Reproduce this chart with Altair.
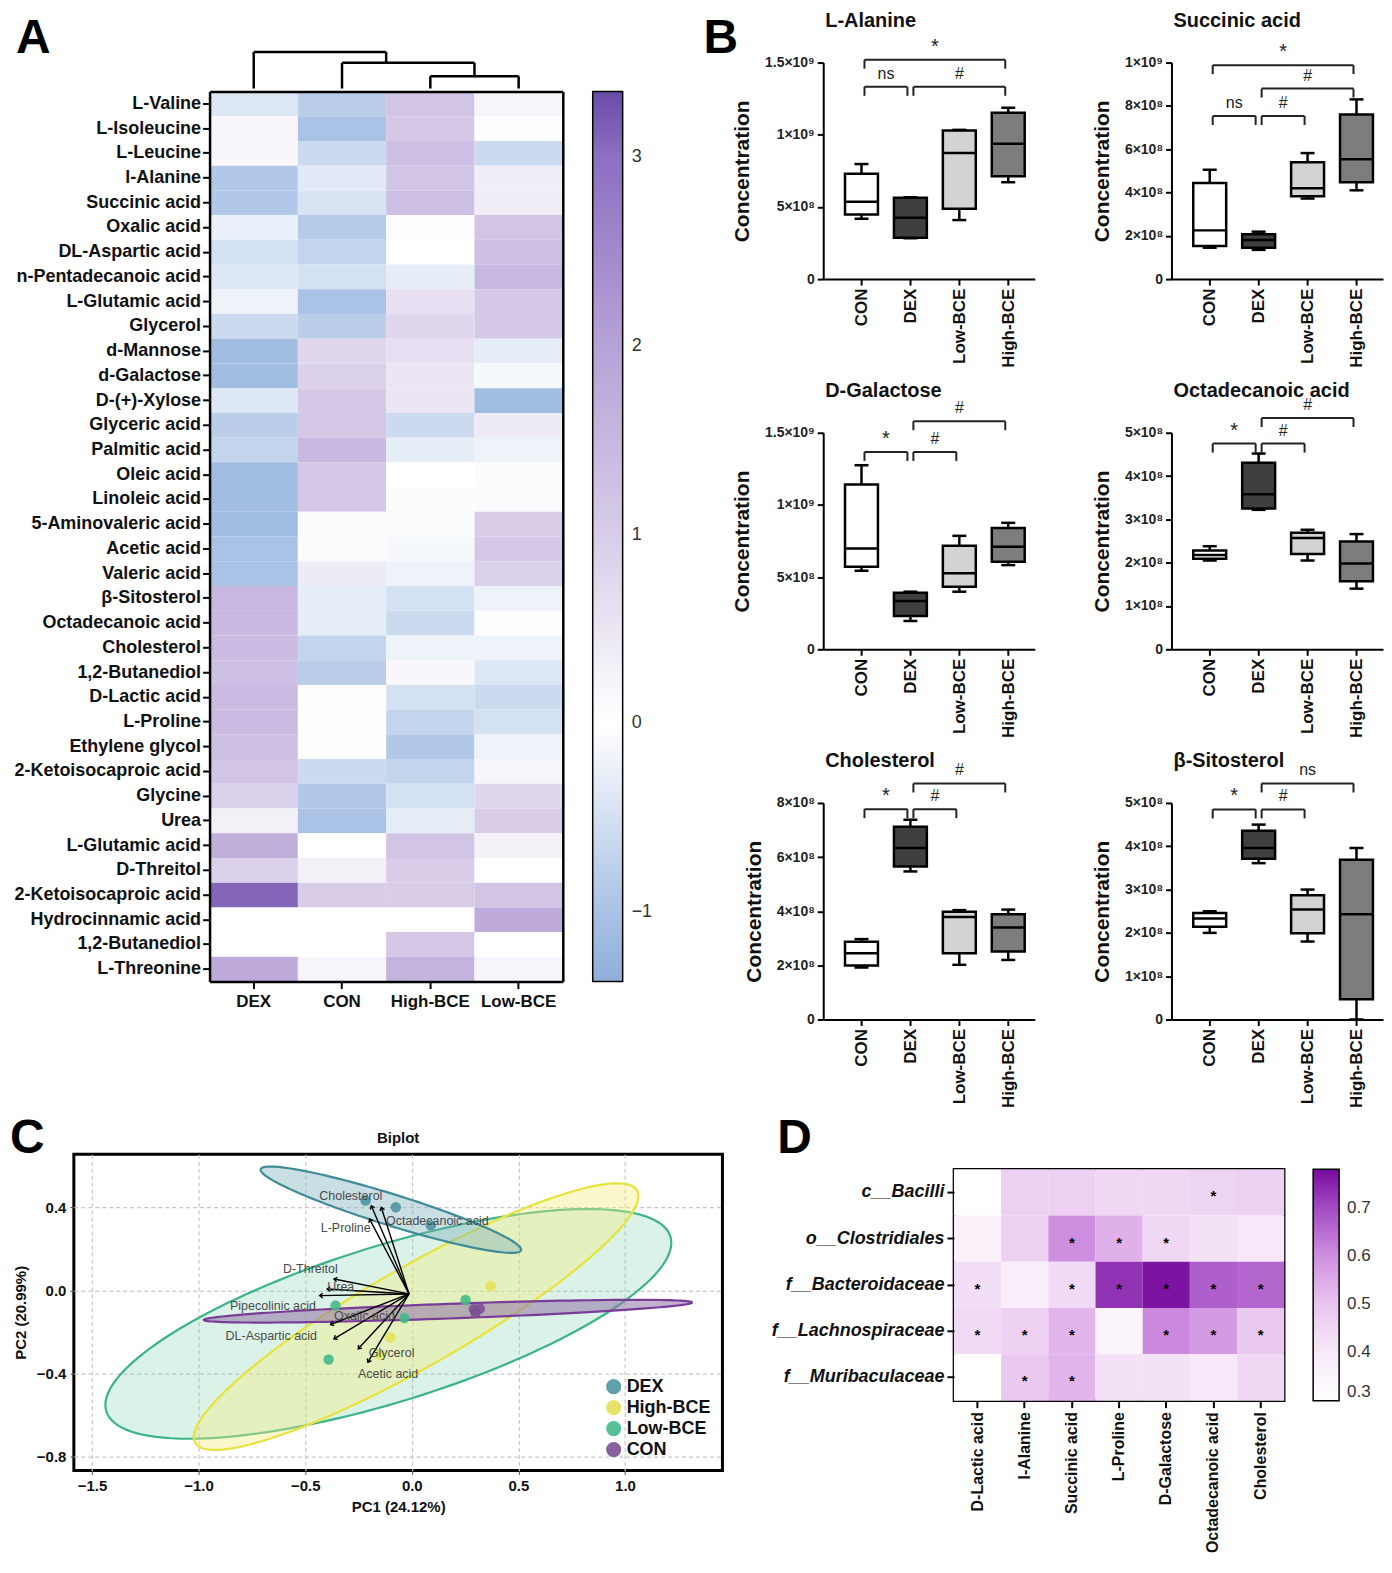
import json
import numpy as np
import pandas as pd
import altair as alt

FONT = "Liberation Sans"

# ---------------- Panel A : heatmap ----------------
a_groups = ["DEX", "CON", "High-BCE", "Low-BCE"]
a_rows = ["L-Valine", "L-Isoleucine", "L-Leucine", "l-Alanine", "Succinic acid", "Oxalic acid",
          "DL-Aspartic acid", "n-Pentadecanoic acid", "L-Glutamic acid", "Glycerol", "d-Mannose",
          "d-Galactose", "D-(+)-Xylose", "Glyceric acid", "Palmitic acid", "Oleic acid",
          "Linoleic acid", "5-Aminovaleric acid", "Acetic acid", "Valeric acid", "β-Sitosterol",
          "Octadecanoic acid", "Cholesterol", "1,2-Butanediol", "D-Lactic acid", "L-Proline",
          "Ethylene glycol", "2-Ketoisocaproic acid", "Glycine", "Urea", "L-Glutamic acid",
          "D-Threitol", "2-Ketoisocaproic acid", "Hydrocinnamic acid", "1,2-Butanediol",
          "L-Threonine"]
a_dex = [-0.4, 0.15, 0.15, -0.9, -0.9, -0.25, -0.5, -0.4, -0.2, -0.6, -1.1, -1.1, -0.4, -0.8,
         -0.7, -1.1, -1.1, -1.1, -1.0, -1.0, 1.5, 1.45, 1.4, 1.3, 1.4, 1.4, 1.3, 1.2, 0.9, 0.3,
         1.7, 0.9, 3.1, 0.0, 0.0, 1.8]
a_con = [-0.8, -1.0, -0.6, -0.35, -0.45, -0.85, -0.7, -0.5, -1.0, -0.8, 0.8, 0.9, 1.1, 1.1,
         1.5, 1.1, 1.1, 0.1, 0.1, 0.4, -0.3, -0.3, -0.7, -0.8, 0.02, 0.02, 0.02, -0.6, -0.9,
         -1.0, 0.0, 0.3, 1.0, 0.0, 0.0, 0.2]
a_high = [1.2, 1.1, 1.3, 1.2, 1.3, 0.05, 0.0, -0.3, 0.6, 0.8, 0.6, 0.5, 0.5, -0.6, -0.3, 0.0,
          -0.05, -0.05, -0.1, -0.2, -0.5, -0.6, -0.2, 0.15, -0.5, -0.7, -0.9, -0.7, -0.5, -0.3,
          1.2, 1.0, 1.0, 0.0, 1.1, 1.6]
a_low = [0.2, 0.05, -0.6, 0.35, 0.35, 1.2, 1.3, 1.5, 1.1, 1.1, -0.3, -0.1, -1.1, 0.4, -0.2, 0.1,
         0.1, 1.0, 1.1, 0.9, -0.2, 0.05, -0.2, -0.4, -0.6, -0.5, -0.2, 0.2, 0.8, 1.0, 0.3, 0.0,
         1.2, 1.8, 0.0, 0.2]
a_color_domain = [-1.37, -1, 0, 1, 2, 3, 3.35]
a_color_range = ["#8eafdb", "#a9c2e5", "#ffffff", "#d8cce9", "#b7a2d7", "#8d70c2", "#6a4ba7"]
a_legend_ticks = [-1, 0, 1, 2, 3]

# dendrogram (column positions in units of columns, merge heights)
dendro_left = [2.5, 1.5, 0.5]
dendro_right = [3.5, 3.0, 2.0]
dendro_height = [1.23, 2.57, 3.67]
dendro_left_base = [0.0, 0.0, 0.0]
dendro_right_base = [0.0, 1.23, 2.57]

# ---------------- Panel B : box plots ----------------
b_groups = ["CON", "DEX", "Low-BCE", "High-BCE"]
b_pos = [1, 2, 3, 4]
b_fills = ["#ffffff", "#3f3f3f", "#d3d3d3", "#7d7d7d"]

ala_min = [0.418e9, 0.283e9, 0.409e9, 0.671e9]
ala_q1 = [0.448e9, 0.287e9, 0.487e9, 0.712e9]
ala_med = [0.535e9, 0.425e9, 0.873e9, 0.937e9]
ala_q3 = [0.730e9, 0.563e9, 1.030e9, 1.153e9]
ala_max = [0.797e9, 0.567e9, 1.034e9, 1.187e9]
ala_ticks = [0, 500000000, 1000000000, 1500000000]
ala_tlabels = ["0", "5×10⁸", "1×10⁹", "1.5×10⁹"]
ala_br_a = ["CON", "DEX", "CON"]
ala_br_b = ["DEX", "High-BCE", "High-BCE"]
ala_br_y = [1.332e9, 1.332e9, 1.52e9]
ala_br_t = ["ns", "#", "*"]

suc_min = [1.45e8, 1.35e8, 3.72e8, 4.10e8]
suc_q1 = [1.53e8, 1.45e8, 3.83e8, 4.47e8]
suc_med = [2.25e8, 1.80e8, 4.20e8, 5.54e8]
suc_q3 = [4.44e8, 2.07e8, 5.40e8, 7.60e8]
suc_max = [5.05e8, 2.19e8, 5.82e8, 8.30e8]
suc_ticks = [0, 200000000, 400000000, 600000000, 800000000, 1000000000]
suc_tlabels = ["0", "2×10⁸", "4×10⁸", "6×10⁸", "8×10⁸", "1×10⁹"]
suc_br_a = ["CON", "DEX", "DEX", "CON"]
suc_br_b = ["DEX", "Low-BCE", "High-BCE", "High-BCE"]
suc_br_y = [7.53e8, 7.53e8, 8.80e8, 9.88e8]
suc_br_t = ["ns", "#", "#", "*"]

gal_min = [0.544e9, 0.196e9, 0.399e9, 0.583e9]
gal_q1 = [0.572e9, 0.230e9, 0.433e9, 0.606e9]
gal_med = [0.698e9, 0.334e9, 0.526e9, 0.710e9]
gal_q3 = [1.141e9, 0.392e9, 0.717e9, 0.841e9]
gal_max = [1.275e9, 0.399e9, 0.786e9, 0.876e9]
gal_ticks = [0, 500000000, 1000000000, 1500000000]
gal_tlabels = ["0", "5×10⁸", "1×10⁹", "1.5×10⁹"]
gal_br_a = ["CON", "DEX", "DEX"]
gal_br_b = ["DEX", "Low-BCE", "High-BCE"]
gal_br_y = [1.367e9, 1.367e9, 1.58e9]
gal_br_t = ["*", "#", "#"]

oct_min = [2.05e8, 3.22e8, 2.05e8, 1.40e8]
oct_q1 = [2.09e8, 3.25e8, 2.20e8, 1.57e8]
oct_med = [2.18e8, 3.58e8, 2.57e8, 1.98e8]
oct_q3 = [2.28e8, 4.31e8, 2.69e8, 2.49e8]
oct_max = [2.38e8, 4.52e8, 2.76e8, 2.66e8]
oct_ticks = [0, 100000000, 200000000, 300000000, 400000000, 500000000]
oct_tlabels = ["0", "1×10⁸", "2×10⁸", "3×10⁸", "4×10⁸", "5×10⁸"]
oct_br_a = ["CON", "DEX", "DEX"]
oct_br_b = ["DEX", "Low-BCE", "High-BCE"]
oct_br_y = [4.75e8, 4.75e8, 5.34e8]
oct_br_t = ["*", "#", "#"]

cho_min = [1.92e8, 5.47e8, 2.02e8, 2.20e8]
cho_q1 = [1.99e8, 5.65e8, 2.45e8, 2.51e8]
cho_med = [2.45e8, 6.34e8, 3.79e8, 3.40e8]
cho_q3 = [2.87e8, 7.12e8, 3.98e8, 3.89e8]
cho_max = [2.97e8, 7.38e8, 4.04e8, 4.06e8]
cho_ticks = [0, 200000000, 400000000, 600000000, 800000000]
cho_tlabels = ["0", "2×10⁸", "4×10⁸", "6×10⁸", "8×10⁸"]
cho_br_a = ["CON", "DEX", "DEX"]
cho_br_b = ["DEX", "Low-BCE", "High-BCE"]
cho_br_y = [7.77e8, 7.77e8, 8.72e8]
cho_br_t = ["*", "#", "#"]

sit_min = [2.00e8, 3.61e8, 1.80e8, 0.0]
sit_q1 = [2.14e8, 3.71e8, 1.99e8, 0.47e8]
sit_med = [2.33e8, 3.96e8, 2.54e8, 2.43e8]
sit_q3 = [2.46e8, 4.36e8, 2.87e8, 3.69e8]
sit_max = [2.50e8, 4.50e8, 3.00e8, 3.96e8]
sit_ticks = [0, 100000000, 200000000, 300000000, 400000000, 500000000]
sit_tlabels = ["0", "1×10⁸", "2×10⁸", "3×10⁸", "4×10⁸", "5×10⁸"]
sit_br_a = ["CON", "DEX", "DEX"]
sit_br_b = ["DEX", "Low-BCE", "High-BCE"]
sit_br_y = [4.85e8, 4.85e8, 5.45e8]
sit_br_t = ["*", "#", "ns"]

# ---------------- Panel C : biplot ----------------
c_groups = ["DEX", "High-BCE", "Low-BCE", "CON"]
c_colors = ["#4f95a3", "#e3e158", "#46b98b", "#7b4f95"]
pt_group = ["DEX", "DEX", "DEX", "High-BCE", "High-BCE", "High-BCE",
            "Low-BCE", "Low-BCE", "Low-BCE", "Low-BCE", "CON", "CON", "CON"]
pt_x = [-0.217, -0.075, 0.089, 0.370, -0.102, -0.148, -0.358, -0.390, 0.252, -0.035,
        0.291, 0.299, 0.319]
pt_y = [0.433, 0.401, 0.314, 0.022, -0.225, -0.307, -0.072, -0.331, -0.045, -0.132,
        -0.089, -0.108, -0.086]

ell_group = ["Low-BCE", "High-BCE", "DEX", "CON"]
ell_cx = [-0.11, 0.02, -0.098, 0.17]
ell_cy = [-0.16, -0.125, 0.389, -0.099]
ell_a = [1.388, 1.201, 0.641, 1.146]
ell_b = [0.374, 0.237, 0.075, 0.035]
ell_angle = [17.7, 30.4, -17.7, 2.1]
ell_fill = ["#7fd1b0", "#f2ee7a", "#78aebb", "#8f72a8"]
ell_fill_opacity = [0.28, 0.4, 0.4, 0.55]
ell_stroke = ["#3cb38a", "#e8e23c", "#3f8c99", "#7a3c99"]

arrow_x0 = -0.013
arrow_y0 = -0.016
arrow_x = [-0.190, -0.143, -0.198, -0.365, -0.397, -0.432, -0.381, -0.365, -0.251, -0.206]
arrow_y = [0.408, 0.400, 0.344, 0.056, 0.008, -0.024, -0.163, -0.232, -0.280, -0.344]
lab_text = ["Cholesterol", "Octadecanoic acid", "L-Proline", "D-Threitol", "Urea",
            "Pipecolinic acid", "Oxalic acid", "DL-Aspartic acid", "Glycerol", "Acetic acid"]
lab_x = [-0.286, 0.120, -0.310, -0.476, -0.333, -0.651, -0.222, -0.659, -0.095, -0.111]
lab_y = [0.456, 0.337, 0.300, 0.104, 0.016, -0.072, -0.123, -0.216, -0.301, -0.400]
c_xticks = [-1.5, -1.0, -0.5, 0.0, 0.5, 1.0]
c_yticks = [0.4, 0.0, -0.4, -0.8]

# ---------------- Panel D : correlation heatmap ----------------
d_taxa = ["c__Bacilli", "o__Clostridiales", "f__Bacteroidaceae", "f__Lachnospiraceae",
          "f__Muribaculaceae"]
d_metab = ["D-Lactic acid", "l-Alanine", "Succinic acid", "L-Proline", "D-Galactose",
           "Octadecanoic acid", "Cholesterol"]
d_bacilli = [0.30, 0.47, 0.47, 0.45, 0.45, 0.46, 0.47]
d_clostridiales = [0.36, 0.47, 0.60, 0.54, 0.45, 0.42, 0.40]
d_bacteroidaceae = [0.43, 0.38, 0.44, 0.73, 0.77, 0.67, 0.66]
d_lachnospiraceae = [0.44, 0.47, 0.53, 0.35, 0.61, 0.58, 0.49]
d_muribaculaceae = [0.30, 0.49, 0.53, 0.42, 0.42, 0.40, 0.45]
d_star_bacilli = [0, 0, 0, 0, 0, 1, 0]
d_star_clostridiales = [0, 0, 1, 1, 1, 0, 0]
d_star_bacteroidaceae = [1, 0, 1, 1, 1, 1, 1]
d_star_lachnospiraceae = [1, 1, 1, 0, 1, 1, 1]
d_star_muribaculaceae = [0, 1, 1, 0, 0, 0, 0]
d_color_domain = [0.3, 0.4, 0.5, 0.6, 0.7, 0.78]
d_color_range = ["#ffffff", "#f6e8f8", "#e9c6f0", "#cf8fe0", "#a24bc4", "#780b9e"]
d_legend_ticks = [0.3, 0.4, 0.5, 0.6, 0.7]

TOP_LETTER_Y = -48      # panel letters A/B (top baseline), relative to plot top
BOT_LETTER_Y = -39      # panel letters C/D


def letter(t, x, y):
    return alt.Chart(pd.DataFrame({"t": [t]})).mark_text(
        align="left", baseline="top", fontSize=48, fontWeight="bold", color="black",
        font=FONT).encode(x=alt.value(x), y=alt.value(y), text="t:N")


# ---------- A ----------
A_W = 490          # group width (origin shared with panel C)
A_X0 = 136         # where the heat map cells start inside that group
a_df = pd.DataFrame({
    "ri": np.repeat(np.arange(len(a_rows)), 4),
    "g": a_groups * len(a_rows),
    "v": np.array([a_dex, a_con, a_high, a_low]).T.ravel(),
})
row_labels = json.dumps(a_rows, ensure_ascii=False)
a_xscale = alt.Scale(range=[A_X0, A_W], paddingInner=0, paddingOuter=0)
heatA_main = alt.Chart(a_df).mark_rect().encode(
    x=alt.X("g:N", sort=a_groups, title=None, scale=a_xscale,
            axis=alt.Axis(labelAngle=0, labelFontSize=17, labelFontWeight="bold", labelColor="#111",
                          tickSize=7, tickWidth=2, tickColor="black", domain=True,
                          domainWidth=2.5, domainColor="black", labelPadding=5)),
    y=alt.Y("ri:O", title=None,
            axis=alt.Axis(labelExpr=row_labels + "[datum.value]", labelFontSize=18,
                          labelFontWeight="bold", labelColor="#111", tickSize=7, tickWidth=2,
                          tickColor="black", domain=True, domainWidth=2.5, domainColor="black",
                          labelPadding=2, labelLimit=320, offset=-A_X0)),
    color=alt.Color("v:Q", scale=alt.Scale(domain=a_color_domain, range=a_color_range,
                                           interpolate="rgb"),
                    legend=alt.Legend(title=None, orient="right", offset=30, padding=0,
                                      gradientLength=892, gradientThickness=30,
                                      gradientStrokeColor="black", gradientStrokeWidth=1.5,
                                      values=a_legend_ticks, format="d", labelFontSize=18,
                                      labelColor="#333", labelOffset=9, direction="vertical")),
)
heatA_frame = alt.Chart(a_df).mark_rect(opacity=0).encode(
    x=alt.X("g:N", sort=a_groups, title=None, scale=a_xscale,
            axis=alt.Axis(orient="top", labels=False, ticks=False, domain=True, domainWidth=2.5,
                          domainColor="black")),
    y=alt.Y("ri:O", title=None,
            axis=alt.Axis(orient="right", labels=False, ticks=False, domain=True,
                          domainWidth=2.5, domainColor="black")),
)
heatA = alt.layer(heatA_main, heatA_frame).resolve_axis(
    x="independent", y="independent").properties(width=A_W, height=892)

d_dendro = pd.DataFrame({"xl": dendro_left, "xr": dendro_right, "h": dendro_height,
                         "hl": dendro_left_base, "hr": dendro_right_base})
dxs = alt.Scale(domain=[0, 4], range=[A_X0, A_W], nice=False, zero=False)
dys = alt.Scale(domain=[0, 2.6], nice=False, zero=False)
dbase = alt.Chart(d_dendro)
dendro = alt.layer(
    dbase.mark_rule(color="black", strokeWidth=2.5).encode(
        x=alt.X("xl:Q", scale=dxs, axis=None), x2="xr:Q", y=alt.Y("h:Q", scale=dys, axis=None)),
    dbase.mark_rule(color="black", strokeWidth=2.5).encode(
        x=alt.X("xl:Q", scale=dxs, axis=None), y=alt.Y("h:Q", scale=dys, axis=None), y2="hl:Q"),
    dbase.mark_rule(color="black", strokeWidth=2.5).encode(
        x=alt.X("xr:Q", scale=dxs, axis=None), y=alt.Y("h:Q", scale=dys, axis=None), y2="hr:Q"),
    letter("A", -58, TOP_LETTER_Y),
).properties(width=A_W, height=26)

A_col = alt.vconcat(dendro, heatA, spacing=0).resolve_scale(color="independent")

# ---------- B ----------
B_W = 212


def box_panel(title, vmin, q1, med, q3, vmax, ticks, tlabels, br_a, br_b, br_y, br_t, let=None):
    df = pd.DataFrame({"g": b_groups, "pos": b_pos, "fill": b_fills, "lo": vmin, "q1": q1,
                       "med": med, "q3": q3, "hi": vmax})
    xscale = alt.Scale(domain=[0.32, 4.44], nice=False, zero=False)
    yscale = alt.Scale(domain=[0, ticks[-1]], nice=False, zero=True)
    xaxis = alt.Axis(values=b_pos, labelExpr=json.dumps(b_groups) + "[datum.value - 1]",
                     labelAngle=-90, labelFontSize=17, labelFontWeight="bold", labelColor="#111",
                     tickSize=6, tickWidth=2, tickColor="black", domainWidth=2,
                     domainColor="black", grid=False, labelPadding=3, title=None)
    yaxis = alt.Axis(values=ticks,
                     labelExpr=json.dumps(tlabels, ensure_ascii=False) + "[indexof("
                     + json.dumps(ticks) + ", datum.value)]",
                     labelFontSize=14, labelFontWeight="bold", labelColor="#222", tickSize=6,
                     tickWidth=2, tickColor="black", domainWidth=2, domainColor="black",
                     grid=False, title="Concentration", titleFontSize=21,
                     titleFontWeight="bold", titleColor="#111", titlePadding=12, labelPadding=3)

    def X(f):
        return alt.X(f, scale=xscale, axis=xaxis)

    def Y(f):
        return alt.Y(f, scale=yscale, axis=yaxis)

    base = alt.Chart(df)
    whisk = base.mark_rule(color="black", strokeWidth=2.5).encode(x=X("pos:Q"), y=Y("lo:Q"),
                                                                  y2="hi:Q")
    caps = base.transform_fold(["lo", "hi"], as_=["k", "v"]).mark_rule(
        color="black", strokeWidth=2.5, xOffset=-7, x2Offset=7).encode(
        x=X("pos:Q"), x2="pos:Q", y=Y("v:Q"))
    box = base.mark_bar(size=33, stroke="black", strokeWidth=2.5).encode(
        x=X("pos:Q"), y=Y("q1:Q"), y2="q3:Q", fill=alt.Fill("fill:N", scale=None))
    medl = base.mark_rule(color="black", strokeWidth=2.5, xOffset=-16.5, x2Offset=16.5).encode(
        x=X("pos:Q"), x2="pos:Q", y=Y("med:Q"))

    bdf = pd.DataFrame({"a": [b_pos[b_groups.index(g)] for g in br_a],
                        "b": [b_pos[b_groups.index(g)] for g in br_b],
                        "y": br_y, "t": br_t})
    bdf["m"] = (bdf["a"] + bdf["b"]) / 2
    bdf["fs"] = [20 if t == "*" else 16 for t in br_t]
    bb = alt.Chart(bdf)
    hline = bb.mark_rule(color="#222", strokeWidth=2, xOffset=3, x2Offset=-3).encode(
        x=X("a:Q"), x2="b:Q", y=Y("y:Q"))
    lend = bb.mark_rule(color="#222", strokeWidth=2, xOffset=3, y2Offset=9).encode(
        x=X("a:Q"), y=Y("y:Q"), y2="y:Q")
    rend = bb.mark_rule(color="#222", strokeWidth=2, xOffset=-3, y2Offset=9).encode(
        x=X("b:Q"), y=Y("y:Q"), y2="y:Q")
    txt = bb.mark_text(dy=-13, color="#222", baseline="middle", font=FONT).encode(
        x=X("m:Q"), y=Y("y:Q"), text="t:N", size=alt.Size("fs:Q", scale=None))
    ttl = alt.Chart(pd.DataFrame({"t": [title]})).mark_text(
        align="left", baseline="alphabetic", fontSize=20, fontWeight="bold", color="#111",
        font=FONT).encode(x=alt.value(2), y=alt.value(-36), text="t:N")
    layers = [whisk, box, medl, caps, hline, lend, rend, txt, ttl]
    if let is not None:
        layers.append(letter(let, -120, TOP_LETTER_Y))
    return alt.layer(*layers).properties(width=B_W, height=217)


b1 = box_panel("L-Alanine", ala_min, ala_q1, ala_med, ala_q3, ala_max, ala_ticks, ala_tlabels,
               ala_br_a, ala_br_b, ala_br_y, ala_br_t, let="B")
b2 = box_panel("Succinic acid", suc_min, suc_q1, suc_med, suc_q3, suc_max, suc_ticks,
               suc_tlabels, suc_br_a, suc_br_b, suc_br_y, suc_br_t)
b3 = box_panel("D-Galactose", gal_min, gal_q1, gal_med, gal_q3, gal_max, gal_ticks, gal_tlabels,
               gal_br_a, gal_br_b, gal_br_y, gal_br_t)
b4 = box_panel("Octadecanoic acid", oct_min, oct_q1, oct_med, oct_q3, oct_max, oct_ticks,
               oct_tlabels, oct_br_a, oct_br_b, oct_br_y, oct_br_t)
b5 = box_panel("Cholesterol", cho_min, cho_q1, cho_med, cho_q3, cho_max, cho_ticks, cho_tlabels,
               cho_br_a, cho_br_b, cho_br_y, cho_br_t)
b6 = box_panel("β-Sitosterol", sit_min, sit_q1, sit_med, sit_q3, sit_max, sit_ticks,
               sit_tlabels, sit_br_a, sit_br_b, sit_br_y, sit_br_t)
B_grid = alt.concat(b1, b2, b3, b4, b5, b6, columns=2, spacing={"row": 12, "column": 55})

top_row = alt.hconcat(A_col, B_grid, spacing=49).resolve_scale(color="independent")

# ---------- C ----------
cxs = alt.Scale(domain=[-1.585, 1.457], nice=False, zero=False)
cys = alt.Scale(domain=[-0.865, 0.656], nice=False, zero=False)
cx_axis = alt.Axis(values=c_xticks, format=".1f", title="PC1 (24.12%)", labelFontSize=15,
                   labelFontWeight="bold", labelColor="#111", titleFontSize=15,
                   titleFontWeight="bold", titleColor="#111", grid=True, gridDash=[4, 3],
                   gridColor="#c8c8c8", gridWidth=1.2, domain=False, tickSize=4,
                   tickColor="#555", labelPadding=4, titlePadding=6)
cy_axis = alt.Axis(values=c_yticks, format=".1f", title="PC2 (20.99%)", labelFontSize=15,
                   labelFontWeight="bold", labelColor="#111", titleFontSize=15,
                   titleFontWeight="bold", titleColor="#111", grid=True, gridDash=[4, 3],
                   gridColor="#c8c8c8", gridWidth=1.2, domain=False, tickSize=4,
                   tickColor="#555", labelPadding=4, titlePadding=8)


def CX(f):
    return alt.X(f, scale=cxs, axis=cx_axis)


def CY(f):
    return alt.Y(f, scale=cys, axis=cy_axis)


c_layers = []
tt = np.linspace(0, 2 * np.pi, 145)
for i in range(len(ell_group)):
    th = np.radians(ell_angle[i])
    ex = ell_cx[i] + ell_a[i] * np.cos(tt) * np.cos(th) - ell_b[i] * np.sin(tt) * np.sin(th)
    ey = ell_cy[i] + ell_a[i] * np.cos(tt) * np.sin(th) + ell_b[i] * np.sin(tt) * np.cos(th)
    edf = pd.DataFrame({"x": ex, "y": ey, "o": np.arange(len(tt))})
    c_layers.append(alt.Chart(edf).mark_line(
        fill=ell_fill[i], fillOpacity=ell_fill_opacity[i], stroke=ell_stroke[i],
        strokeWidth=2.2).encode(x=CX("x:Q"), y=CY("y:Q"), order="o:Q"))

pdf = pd.DataFrame({"grp": pt_group, "x": pt_x, "y": pt_y})
c_layers.append(alt.Chart(pdf).mark_circle(size=110, opacity=0.9).encode(
    x=CX("x:Q"), y=CY("y:Q"),
    color=alt.Color("grp:N", scale=alt.Scale(domain=c_groups, range=c_colors),
                    legend=alt.Legend(title=None, orient="bottom-right", offset=12,
                                      labelFontSize=18, labelFontWeight="bold",
                                      labelColor="#111", symbolSize=230, symbolType="circle",
                                      symbolOpacity=0.9, rowPadding=3, padding=0))))

adf = pd.DataFrame({"x0": [arrow_x0] * len(arrow_x), "y0": [arrow_y0] * len(arrow_x),
                    "x1": arrow_x, "y1": arrow_y})
adf["ang"] = (np.degrees(np.arctan2(adf["x1"] - adf["x0"], adf["y1"] - adf["y0"])) + 360) % 360
c_layers.append(alt.Chart(adf).mark_rule(color="black", strokeWidth=1.4).encode(
    x=CX("x0:Q"), x2="x1:Q", y=CY("y0:Q"), y2="y1:Q"))
c_layers.append(alt.Chart(adf).mark_point(
    shape="M -0.7 0.9 L 0 0 L 0.7 0.9", filled=False, stroke="black", strokeWidth=1.4,
    size=45, opacity=1).encode(x=CX("x1:Q"), y=CY("y1:Q"),
                              angle=alt.Angle("ang:Q", scale=None)))
ldf = pd.DataFrame({"t": lab_text, "x": lab_x, "y": lab_y})
c_layers.append(alt.Chart(ldf).mark_text(fontSize=12.5, color="#4a4a4a", font=FONT).encode(
    x=CX("x:Q"), y=CY("y:Q"), text="t:N"))
c_layers.append(alt.Chart(pd.DataFrame({"t": ["Biplot"]})).mark_text(
    align="center", baseline="alphabetic", fontSize=15, fontWeight="bold", color="#111",
    font=FONT).encode(x=alt.value(325), y=alt.value(-11), text="t:N"))
c_layers.append(letter("C", -64, BOT_LETTER_Y))
biplot = alt.layer(*c_layers).properties(
    width=650, height=317, view=alt.ViewBackground(stroke="black", strokeWidth=3))

# ---------- D ----------
d_vals = [d_bacilli, d_clostridiales, d_bacteroidaceae, d_lachnospiraceae, d_muribaculaceae]
d_stars = [d_star_bacilli, d_star_clostridiales, d_star_bacteroidaceae, d_star_lachnospiraceae,
           d_star_muribaculaceae]
d_df = pd.DataFrame({
    "t": np.repeat(d_taxa, len(d_metab)),
    "m": d_metab * len(d_taxa),
    "r": np.array(d_vals).ravel(),
    "s": np.array(d_stars).ravel(),
})
DXe = alt.X("m:N", sort=d_metab, title=None,
            axis=alt.Axis(labelAngle=-90, labelFontSize=16, labelFontWeight="bold",
                          labelColor="#111", tickSize=7, tickWidth=2, tickColor="black",
                          domain=False, labelPadding=4))
DYe = alt.Y("t:N", sort=d_taxa, title=None,
            axis=alt.Axis(labelFontSize=18, labelFontWeight="bold", labelFontStyle="italic",
                          labelColor="#111", tickSize=7, tickWidth=2, tickColor="black",
                          domain=False, labelPadding=3))
dheat = alt.Chart(d_df).mark_rect().encode(
    x=DXe, y=DYe,
    color=alt.Color("r:Q", scale=alt.Scale(domain=d_color_domain, range=d_color_range,
                                           interpolate="rgb"),
                    legend=alt.Legend(title=None, orient="right", offset=29, padding=0,
                                      gradientLength=232, gradientThickness=26,
                                      gradientStrokeColor="black", gradientStrokeWidth=1.5,
                                      values=d_legend_ticks, labelFontSize=17, labelColor="#333",
                                      labelOffset=8, direction="vertical", format=".1f")))
dstar = alt.Chart(d_df).transform_filter("datum.s == 1").mark_text(
    text="*", fontSize=15, fontWeight="bold", color="black", dy=4).encode(x=DXe, y=DYe)
heatD = alt.layer(dheat, dstar).properties(
    width=331, height=232, view=alt.ViewBackground(stroke="black", strokeWidth=2.5))

spD = letter("D", -177, BOT_LETTER_Y).properties(width=1, height=1)
D_col = alt.vconcat(spD, heatD, spacing=3).resolve_scale(color="independent")

bottom_row = alt.hconcat(biplot, D_col, spacing=45).resolve_scale(color="independent")

chart = alt.vconcat(top_row, bottom_row, spacing=5).resolve_scale(
    color="independent").properties(padding=0).configure(
    font=FONT).configure_view(stroke="transparent")

chart.save("out.html", embed_options={"renderer": "svg", "actions": False})
